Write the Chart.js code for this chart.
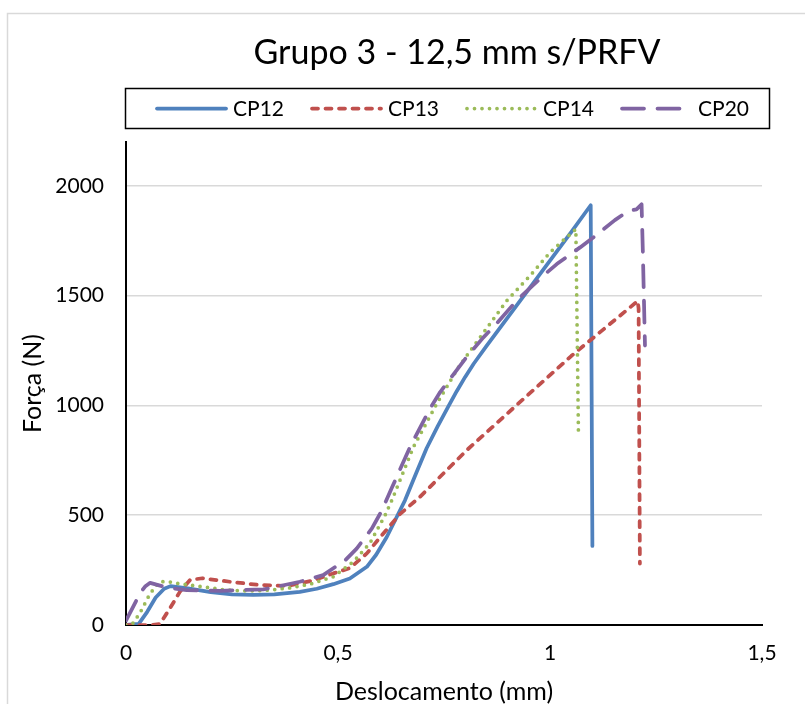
<!DOCTYPE html>
<html>
<head>
<meta charset="utf-8">
<script src="https://cdn.jsdelivr.net/npm/chart.js@4/dist/chart.umd.min.js"></script>
<style>
  html, body { margin: 0; padding: 0; background: #fff; }
</style>
</head>
<body>
<canvas id="grupo3Chart" width="805" height="704"></canvas>
<script>
const titleText = 'Grupo 3 - 12,5 mm s/PRFV';
const xTitle = 'Deslocamento (mm)';
const yTitle = 'Força (N)';
const seriesLabels = ['CP12', 'CP13', 'CP14', 'CP20'];

// CP12
const cp12X = [0, 0.03, 0.05, 0.07, 0.09, 0.105, 0.15, 0.2, 0.25, 0.3, 0.35, 0.41, 0.45, 0.489, 0.528, 0.568, 0.59, 0.615, 0.658, 0.685, 0.709, 0.735, 0.76, 0.78, 0.8, 0.82, 0.85, 0.9, 0.95, 1.0, 1.05, 1.096, 1.1];
const cp12Y = [0, 5, 60, 125, 165, 177, 166, 150, 140, 137, 139, 151, 165, 186, 212, 265, 320, 401, 568, 695, 805, 905, 995, 1065, 1130, 1190, 1270, 1400, 1530, 1660, 1790, 1912, 360];

// CP13
const cp13X = [0, 0.06, 0.08, 0.104, 0.127, 0.151, 0.18, 0.245, 0.316, 0.38, 0.44, 0.489, 0.528, 0.568, 0.607, 0.646, 0.693, 0.803, 0.925, 1.05, 1.207, 1.209, 1.212];
const cp13Y = [0, 0, 5, 77, 151, 205, 213, 197, 182, 178, 202, 235, 259, 326, 417, 505, 583, 795, 1008, 1225, 1476, 1440, 280];

// CP14
const cp14X = [0, 0.015, 0.033, 0.057, 0.08, 0.1, 0.123, 0.182, 0.237, 0.29, 0.34, 0.39, 0.434, 0.489, 0.536, 0.575, 0.611, 0.627, 0.678, 0.733, 0.784, 0.835, 0.898, 0.953, 1.0, 1.03, 1.061, 1.067];
const cp14Y = [0, 5, 55, 144, 197, 197, 189, 174, 159, 155, 159, 170, 186, 220, 288, 372, 500, 568, 811, 1008, 1174, 1310, 1477, 1591, 1697, 1750, 1803, 886];

// CP20
const cp20X = [0, 0.033, 0.045, 0.057, 0.096, 0.143, 0.222, 0.324, 0.41, 0.465, 0.517, 0.544, 0.58, 0.603, 0.627, 0.67, 0.717, 0.741, 0.776, 0.803, 0.843, 0.87, 0.921, 0.988, 1.016, 1.071, 1.102, 1.153, 1.185, 1.204, 1.216, 1.219, 1.224];
const cp20Y = [20, 144, 175, 192, 171, 159, 156, 162, 197, 227, 295, 348, 440, 520, 625, 811, 985, 1061, 1151, 1220, 1310, 1364, 1477, 1598, 1644, 1720, 1765, 1844, 1886, 1893, 1916, 1700, 1273];

const xTicks = [0, 0.5, 1, 1.5];
const yTicks = [0, 500, 1000, 1500, 2000];

const FONT = 'Lato';

function pts(xs, ys) {
  return xs.map((x, i) => ({ x: x, y: ys[i] }));
}

const styles = [
  { color: '#4F81BD', dash: [] },
  { color: '#C0504D', dash: [6, 7.5] },
  { color: '#9BBB59', dash: [0, 7.5] },
  { color: '#8064A2', dash: [22, 13.5] },
];

const allData = [pts(cp12X, cp12Y), pts(cp13X, cp13Y), pts(cp14X, cp14Y), pts(cp20X, cp20Y)];

const datasets = seriesLabels.map((label, i) => ({
  label: label,
  data: allData[i],
  borderColor: styles[i].color,
  borderDash: styles[i].dash,
  borderWidth: 3.75,
  borderCapStyle: 'round',
  borderJoinStyle: 'round',
  pointRadius: 0,
  fill: false,
  tension: 0,
  order: 4 - i,
}));

// frame, title and legend box like the Excel original
const framePlugin = {
  id: 'frame',
  beforeDraw(chart) {
    const ctx = chart.ctx;
    ctx.save();
    ctx.fillStyle = '#fff';
    ctx.fillRect(0, 0, chart.width, chart.height);
    ctx.strokeStyle = '#d9d9d9';
    ctx.lineWidth = 1.5;
    ctx.strokeRect(7.5, 13.5, 900, 900);
    ctx.restore();
  },
  afterDraw(chart) {
    const ctx = chart.ctx;
    ctx.save();
    ctx.fillStyle = '#000';
    ctx.font = '34px ' + FONT;
    ctx.textAlign = 'center';
    ctx.textBaseline = 'alphabetic';
    ctx.fillText(titleText, 457, 64);

    ctx.strokeStyle = '#000';
    ctx.lineWidth = 1.5;
    ctx.strokeRect(125.5, 88.5, 644, 40);

    const starts = [157, 312, 467, 622];
    chart.data.datasets.forEach((ds, i) => {
      const x0 = starts[i];
      ctx.beginPath();
      ctx.strokeStyle = ds.borderColor;
      ctx.lineWidth = ds.borderWidth;
      ctx.lineCap = 'round';
      ctx.setLineDash(ds.borderDash);
      ctx.moveTo(x0, 108.5);
      ctx.lineTo(x0 + 69, 108.5);
      ctx.stroke();
      ctx.setLineDash([]);
      ctx.fillStyle = '#000';
      ctx.font = '21px ' + FONT;
      ctx.textAlign = 'left';
      ctx.textBaseline = 'middle';
      ctx.fillText(ds.label, x0 + 76, 109);
    });
    ctx.restore();
  }
};

const ctx = document.getElementById('grupo3Chart').getContext('2d');
new Chart(ctx, {
  type: 'line',
  data: { datasets: datasets },
  options: {
    responsive: false,
    animation: false,
    devicePixelRatio: 1,
    layout: { padding: { left: 16, top: 142, right: 43, bottom: 0 } },
    plugins: {
      legend: { display: false },
      tooltip: { enabled: false },
    },
    scales: {
      x: {
        type: 'linear',
        min: 0,
        max: 1.5,
        afterBuildTicks: s => { s.ticks = xTicks.map(v => ({ value: v })); },
        afterFit: s => { s.height = 79; },
        ticks: {
          font: { family: FONT, size: 21 },
          color: '#000',
          padding: 16,
          callback: v => String(v).replace('.', ','),
        },
        grid: { display: false, drawTicks: false },
        border: { color: '#000', width: 2 },
        title: {
          display: true,
          text: xTitle,
          font: { family: FONT, size: 25 },
          color: '#000',
          padding: { top: 0, bottom: -3 },
        },
      },
      y: {
        min: 0,
        max: 2200,
        afterBuildTicks: s => { s.ticks = yTicks.map(v => ({ value: v })); },
        afterFit: s => { s.width = 110; },
        ticks: {
          font: { family: FONT, size: 21 },
          color: '#000',
          padding: 22,
          callback: v => String(v),
        },
        grid: { color: '#d9d9d9', lineWidth: 1.5, drawTicks: false },
        border: { color: '#000', width: 2 },
        title: {
          display: true,
          text: yTitle,
          font: { family: FONT, size: 25 },
          color: '#000',
          padding: { top: 2, bottom: 4 },
        },
      },
    },
  },
  plugins: [framePlugin],
});
</script>
</body>
</html>
